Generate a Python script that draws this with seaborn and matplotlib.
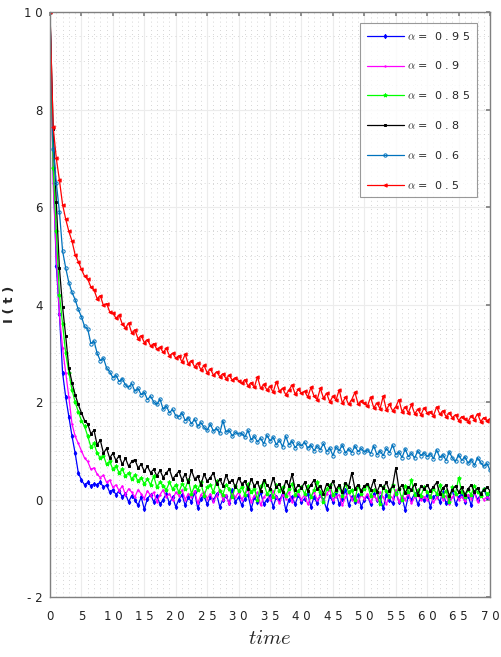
import numpy as np
import pandas as pd
import matplotlib
matplotlib.use("Agg")
import matplotlib.pyplot as plt
import seaborn as sns
from matplotlib.ticker import MultipleLocator

time = np.arange(0, 70.5, 0.5)

alpha_labels = ["0 . 9 5", "0 . 9", "0 . 8 5", "0 . 8", "0 . 6", "0 . 5"]

i_095 = [10.0, 6.8, 4.8, 3.8, 2.6, 2.1, 1.7, 1.3, 0.95, 0.55, 0.4, 0.3, 0.35, 0.28, 0.32, 0.3, 0.36, 0.25, 0.3, 0.15, 0.2,
         0.1, 0.18, 0.05, 0.12, -0.05, 0.08, 0.0, -0.12, 0.05, -0.2, 0.02, 0.1, -0.05, 0.08, -0.1, 0.0, 0.12, -0.08, 0.05, -0.15,
         0.0, 0.1, -0.12, 0.05, -0.05, 0.15, -0.18, 0.02, 0.08, -0.1, 0.05, -0.02, 0.12, -0.15, 0.0, 0.08, -0.08, 0.2, -0.05, 0.05,
         -0.12, 0.02, 0.1, -0.2, 0.05, -0.05, 0.15, -0.1, 0.0, 0.08, -0.15, 0.05, -0.02, 0.12, -0.22, 0.0, 0.06, -0.1, 0.1, -0.05,
         0.02, 0.12, -0.15, 0.05, -0.08, 0.1, 0.0, -0.2, 0.08, -0.05, 0.15, -0.1, 0.02, 0.2, -0.12, 0.05, -0.05, 0.1, -0.15, 0.0,
         0.08, -0.1, 0.12, -0.02, 0.05, -0.18, 0.1, 0.0, -0.08, 0.15, -0.05, 0.05, -0.22, 0.08, 0.0, 0.12, -0.1, 0.05, -0.02, 0.1,
         -0.15, 0.05, 0.1, -0.05, 0.15, -0.08, 0.02, 0.2, -0.1, 0.05, 0.12, -0.05, 0.08, -0.12, 0.15, 0.0, 0.1, 0.22, 0.05, 0.12]

i_09 = [10.0, 6.5, 5.0, 3.8, 3.1, 2.6, 2.1, 1.55, 1.3, 1.15, 1.0, 0.85, 0.78, 0.62, 0.65, 0.52, 0.45, 0.5, 0.35, 0.4, 0.25,
        0.3, 0.18, 0.28, 0.1, 0.22, 0.15, 0.05, 0.2, 0.12, 0.02, 0.18, 0.08, 0.15, -0.05, 0.1, 0.2, 0.05, 0.12, -0.02, 0.15,
        0.08, 0.2, 0.0, 0.12, 0.05, 0.18, -0.08, 0.1, 0.15, 0.02, 0.12, -0.05, 0.08, 0.2, 0.0, 0.1, -0.1, 0.12, 0.05, 0.15,
        0.0, 0.1, 0.2, -0.05, 0.08, 0.15, -0.12, 0.05, 0.12, 0.0, 0.18, 0.05, -0.08, 0.1, 0.02, 0.15, -0.05, 0.08, 0.12, 0.0,
        0.1, -0.1, 0.05, 0.15, 0.0, 0.08, -0.05, 0.12, 0.2, -0.02, 0.06, 0.1, -0.12, 0.05, 0.15, 0.0, 0.08, -0.06, 0.1, 0.02,
        0.12, -0.05, 0.08, 0.0, 0.15, 0.05, -0.1, 0.1, 0.02, 0.2, -0.05, 0.08, 0.0, 0.12, -0.08, 0.05, 0.1, -0.02, 0.06, 0.0,
        0.1, -0.06, 0.04, 0.15, 0.0, 0.08, -0.1, 0.05, 0.12, 0.0, 0.06, -0.04, 0.1, 0.02, 0.15, -0.05, 0.08, 0.0, 0.05, 0.02]

i_085 = [10.0, 6.8, 5.5, 4.2, 3.6, 3.0, 2.6, 2.25, 2.0, 1.8, 1.62, 1.5, 1.3, 1.08, 1.15, 0.95, 0.85, 0.9, 0.72, 0.78, 0.62,
         0.68, 0.55, 0.62, 0.48, 0.55, 0.42, 0.5, 0.38, 0.45, 0.32, 0.42, 0.3, 0.48, 0.25, 0.36, 0.28, 0.2, 0.35, 0.22, 0.3,
         0.15, 0.32, 0.22, 0.4, 0.12, 0.28, 0.2, 0.35, 0.08, 0.25, 0.3, 0.15, 0.38, 0.18, 0.1, 0.3, 0.22, 0.05, 0.28, 0.18,
         0.25, 0.1, 0.32, 0.15, 0.22, 0.0, 0.28, 0.35, 0.12, 0.2, 0.05, 0.3, 0.18, 0.25, 0.08, 0.22, 0.32, 0.1, 0.18, 0.25,
         0.12, 0.28, 0.05, 0.2, 0.35, 0.15, -0.05, 0.22, 0.3, 0.1, 0.18, 0.25, 0.08, 0.32, 0.15, 0.2, 0.0, 0.28, 0.12, 0.22,
         0.3, 0.08, 0.2, 0.15, -0.1, 0.25, 0.18, 0.05, 0.3, 0.12, 0.22, 0.0, 0.28, 0.15, 0.4, 0.1, 0.2, 0.08, 0.25, 0.15,
         0.05, 0.22, 0.12, 0.3, 0.08, 0.18, -0.05, 0.25, 0.12, 0.45, 0.15, 0.05, 0.2, 0.1, 0.28, 0.15, 0.08, 0.22, 0.12, 0.15]

i_08 = [10.0, 7.6, 6.1, 4.75, 3.95, 3.35, 2.7, 2.4, 2.15, 1.95, 1.78, 1.62, 1.55, 1.35, 1.42, 1.12, 1.22, 0.95, 1.05, 0.85, 0.95,
        0.8, 0.9, 0.72, 0.85, 0.68, 0.78, 0.82, 0.65, 0.72, 0.58, 0.68, 0.55, 0.62, 0.48, 0.6, 0.45, 0.55, 0.62, 0.42, 0.5,
        0.58, 0.4, 0.52, 0.35, 0.6, 0.42, 0.48, 0.3, 0.52, 0.38, 0.45, 0.55, 0.32, 0.42, 0.28, 0.5, 0.35, 0.4, 0.25, 0.45,
        0.32, 0.38, 0.22, 0.42, 0.28, 0.35, 0.18, 0.4, 0.3, 0.22, 0.45, 0.25, 0.32, 0.15, 0.38, 0.28, 0.52, 0.2, 0.3, 0.24,
        0.35, 0.18, 0.3, 0.4, 0.22, 0.28, 0.12, 0.32, 0.25, 0.38, 0.2, 0.3, 0.15, 0.34, 0.26, 0.55, 0.22, 0.3, 0.18, 0.28,
        0.32, 0.2, 0.4, 0.15, 0.3, 0.24, 0.35, 0.18, 0.28, 0.65, 0.22, 0.3, 0.14, 0.26, 0.2, 0.32, 0.1, 0.28, 0.22, 0.3,
        0.18, 0.26, 0.35, 0.12, 0.24, 0.3, 0.08, 0.2, 0.28, 0.15, 0.25, 0.1, 0.22, 0.3, 0.16, 0.24, 0.12, 0.2, 0.25, 0.18]

i_06 = [10.0, 7.2, 6.5, 5.9, 5.1, 4.75, 4.45, 4.25, 4.1, 3.9, 3.75, 3.55, 3.5, 3.2, 3.25, 3.0, 2.85, 2.9, 2.7, 2.62, 2.5,
        2.55, 2.42, 2.48, 2.35, 2.3, 2.38, 2.22, 2.28, 2.15, 2.2, 2.05, 2.12, 2.0, 1.95, 2.06, 1.85, 1.92, 1.78, 1.85, 1.72,
        1.7, 1.78, 1.62, 1.68, 1.55, 1.65, 1.5, 1.58, 1.48, 1.42, 1.55, 1.4, 1.46, 1.36, 1.62, 1.38, 1.42, 1.3, 1.38, 1.34,
        1.36, 1.28, 1.42, 1.22, 1.3, 1.18, 1.26, 1.14, 1.32, 1.2, 1.28, 1.12, 1.22, 1.08, 1.3, 1.12, 1.2, 1.06, 1.15, 1.1,
        1.18, 1.05, 1.12, 1.0, 1.1, 1.02, 1.15, 0.98, 1.06, 0.9, 1.08, 1.0, 1.12, 0.95, 1.04, 0.96, 1.1, 0.98, 1.05, 0.97,
        1.02, 0.94, 1.1, 0.92, 1.0, 0.9, 1.05, 0.96, 1.12, 0.92, 0.98, 0.86, 1.04, 0.88, 0.95, 0.85, 1.0, 0.9, 0.96, 0.88,
        0.94, 0.84, 1.02, 0.86, 0.92, 0.8, 0.98, 0.85, 0.78, 0.92, 0.8, 0.88, 0.74, 0.82, 0.7, 0.86, 0.76, 0.68, 0.74, 0.6]

i_05 = [10.0, 7.65, 7.0, 6.55, 6.05, 5.75, 5.5, 5.3, 5.02, 4.88, 4.72, 4.58, 4.52, 4.36, 4.3, 4.12, 4.18, 3.98, 4.02, 3.85, 3.82,
        3.72, 3.78, 3.6, 3.52, 3.62, 3.42, 3.48, 3.3, 3.36, 3.22, 3.28, 3.15, 3.2, 3.08, 3.12, 3.02, 3.1, 2.95, 3.0, 2.9,
        2.95, 2.82, 2.98, 2.78, 2.85, 2.72, 2.8, 2.66, 2.75, 2.6, 2.68, 2.55, 2.62, 2.52, 2.58, 2.48, 2.55, 2.45, 2.5, 2.44,
        2.38, 2.46, 2.33, 2.4, 2.3, 2.52, 2.28, 2.36, 2.25, 2.32, 2.2, 2.42, 2.22, 2.28, 2.15, 2.24, 2.35, 2.16, 2.26, 2.18,
        2.22, 2.1, 2.3, 2.12, 2.05, 2.28, 2.08, 2.18, 2.0, 2.12, 2.04, 2.25, 1.98, 2.1, 1.95, 2.05, 2.2, 1.96, 2.02, 1.97,
        1.92, 2.1, 1.88, 1.98, 1.86, 2.12, 1.84, 1.95, 1.82, 1.9, 2.05, 1.8, 1.9, 1.78, 1.95, 1.76, 1.85, 1.74, 1.88, 1.78,
        1.8, 1.72, 1.9, 1.75, 1.82, 1.7, 1.78, 1.68, 1.74, 1.62, 1.7, 1.66, 1.6, 1.72, 1.64, 1.76, 1.6, 1.68, 1.62, 1.66]

series = [i_095, i_09, i_085, i_08, i_06, i_05]
colors = ["#0000ff", "#ff00ff", "#00ff00", "#000000", "#0072bd", "#ff0000"]
markers = ["d", ".", "*", "s", "o", "<"]
msizes = [2.2, 2.0, 2.8, 1.7, 2.4, 2.4]

xtick_vals = [0, 5, 10, 15, 20, 25, 30, 35, 40, 45, 50, 55, 60, 65, 70]
xtick_labels = ["0", "5", "1 0", "1 5", "2 0", "2 5", "3 0", "3 5", "4 0", "4 5", "5 0", "5 5", "6 0", "6 5", "7 0"]
ytick_vals = [-2, 0, 2, 4, 6, 8, 10]
ytick_labels = ["- 2", "0", "2", "4", "6", "8", "1 0"]

sns.set_theme(style="white")
plt.rcParams['font.family'] = ['DejaVu Sans']
plt.rcParams['mathtext.fontset'] = 'cm'

fig = plt.figure(figsize=(5.01, 6.57), dpi=100)
ax = fig.add_axes([0.0998, 0.0913, 0.8784, 0.8904])

for vals, col, mk, ms, lab in zip(series, colors, markers, msizes, alpha_labels):
    face = "none" if mk == "o" else col
    sns.lineplot(x=time, y=vals, ax=ax, color=col, marker=mk, markersize=ms,
                 markerfacecolor=face, markeredgecolor=col, markeredgewidth=0.7,
                 linewidth=0.9, label=r"$\alpha$ =  " + lab, legend=True)

ax.set_xlim(0, 70)
ax.set_ylim(-2, 10)
ax.set_xticks(xtick_vals)
ax.set_xticklabels(xtick_labels, fontsize=8.5)
ax.set_yticks(ytick_vals)
ax.set_yticklabels(ytick_labels, fontsize=8.5)
ax.xaxis.set_minor_locator(MultipleLocator(1))
ax.yaxis.set_minor_locator(MultipleLocator(0.5))
ax.grid(which="major", color="#ececec", linewidth=0.8, linestyle="-")
ax.grid(which="minor", color="#c8c8c8", linewidth=0.6, linestyle=(0, (1, 4)))
ax.set_axisbelow(True)
ax.tick_params(axis="x", which="major", direction="in", length=3, color="#808080",
               top=True, pad=9, labelcolor="#222222")
ax.tick_params(axis="y", which="major", direction="in", length=3, color="#808080",
               right=True, pad=5, labelcolor="#222222")
ax.tick_params(axis="both", which="minor", length=0)
for sp in ax.spines.values():
    sp.set_color("#808080")
    sp.set_linewidth(1.0)

ax.set_xlabel(r"$time$", fontsize=15, labelpad=4)
ax.set_ylabel("I ( t )", fontsize=9.5, fontweight="bold", labelpad=6)

leg = ax.legend(loc="upper right", bbox_to_anchor=(0.975, 0.985), fontsize=8,
                handlelength=3.3, labelspacing=1.6, frameon=True, fancybox=False,
                borderpad=0.6, handletextpad=0.3, borderaxespad=0.2)
leg.get_frame().set_edgecolor("#808080")
leg.get_frame().set_linewidth(0.8)

fig.savefig("out.png", dpi=100)
